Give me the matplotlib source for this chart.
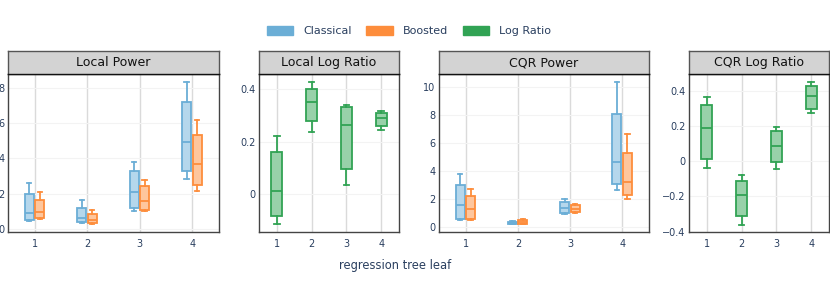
import matplotlib
matplotlib.use("Agg")
import matplotlib.pyplot as plt
from matplotlib.patches import Patch
import numpy as np

plt.rcParams['font.family'] = ['DejaVu Sans']

leaves = [1, 2, 3, 4]
leaf_labels = ["1", "2", "3", "4"]
series_names = ["Classical", "Boosted", "Log Ratio"]
panel_titles = ["Local Power", "Local Log Ratio", "CQR Power", "CQR Log Ratio"]

# Box stats per leaf: whisker low, Q1, median, Q3, whisker high
local_power_classical_lo = [0.47, 0.36, 1.04, 2.83]
local_power_classical_q1 = [0.51, 0.40, 1.17, 3.28]
local_power_classical_med = [0.92, 0.62, 2.09, 4.92]
local_power_classical_q3 = [1.96, 1.20, 3.30, 7.17]
local_power_classical_hi = [2.62, 1.64, 3.81, 8.32]

local_power_boosted_lo = [0.55, 0.26, 1.00, 2.15]
local_power_boosted_q1 = [0.60, 0.32, 1.06, 2.49]
local_power_boosted_med = [0.98, 0.51, 1.60, 3.70]
local_power_boosted_q3 = [1.66, 0.85, 2.42, 5.32]
local_power_boosted_hi = [2.09, 1.09, 2.77, 6.15]

local_ratio_lo = [-0.112, 0.235, 0.037, 0.245]
local_ratio_q1 = [-0.081, 0.278, 0.096, 0.260]
local_ratio_med = [0.014, 0.350, 0.262, 0.288]
local_ratio_q3 = [0.160, 0.400, 0.332, 0.309]
local_ratio_hi = [0.221, 0.425, 0.338, 0.315]

cqr_power_classical_lo = [0.45, 0.17, 0.93, 2.65]
cqr_power_classical_q1 = [0.55, 0.19, 1.00, 3.03]
cqr_power_classical_med = [1.53, 0.26, 1.31, 4.63]
cqr_power_classical_q3 = [2.98, 0.34, 1.79, 8.09]
cqr_power_classical_hi = [3.80, 0.38, 1.98, 10.33]

cqr_power_boosted_lo = [0.48, 0.19, 0.95, 2.00]
cqr_power_boosted_q1 = [0.55, 0.21, 1.03, 2.29]
cqr_power_boosted_med = [1.24, 0.36, 1.24, 3.22]
cqr_power_boosted_q3 = [2.20, 0.45, 1.53, 5.27]
cqr_power_boosted_hi = [2.70, 0.52, 1.62, 6.61]

cqr_ratio_lo = [-0.038, -0.360, -0.044, 0.274]
cqr_ratio_q1 = [0.013, -0.310, -0.002, 0.297]
cqr_ratio_med = [0.187, -0.194, 0.088, 0.370]
cqr_ratio_q3 = [0.322, -0.112, 0.170, 0.430]
cqr_ratio_hi = [0.364, -0.080, 0.194, 0.451]

colors = {"Classical": "#6baed6", "Boosted": "#fd8d3c", "Log Ratio": "#31a354"}
fills = {"Classical": "#b5d7ec", "Boosted": "#fec69d", "Log Ratio": "#98d1a9"}

def make_stats(lo, q1, med, q3, hi):
    return [dict(whislo=a, q1=b, med=c, q3=d, whishi=e, fliers=[])
            for a, b, c, d, e in zip(lo, q1, med, q3, hi)]

panels = [
    {"title": panel_titles[0], "series": [
        ("Classical", make_stats(local_power_classical_lo, local_power_classical_q1, local_power_classical_med, local_power_classical_q3, local_power_classical_hi)),
        ("Boosted", make_stats(local_power_boosted_lo, local_power_boosted_q1, local_power_boosted_med, local_power_boosted_q3, local_power_boosted_hi))],
     "ylim": (-0.17, 8.78), "yticks": [0, 2, 4, 6, 8], "ylabels": ["0", "2", "4", "6", "8"]},
    {"title": panel_titles[1], "series": [
        ("Log Ratio", make_stats(local_ratio_lo, local_ratio_q1, local_ratio_med, local_ratio_q3, local_ratio_hi))],
     "ylim": (-0.143, 0.456), "yticks": [0, 0.2, 0.4], "ylabels": ["0", "0.2", "0.4"]},
    {"title": panel_titles[2], "series": [
        ("Classical", make_stats(cqr_power_classical_lo, cqr_power_classical_q1, cqr_power_classical_med, cqr_power_classical_q3, cqr_power_classical_hi)),
        ("Boosted", make_stats(cqr_power_boosted_lo, cqr_power_boosted_q1, cqr_power_boosted_med, cqr_power_boosted_q3, cqr_power_boosted_hi))],
     "ylim": (-0.38, 10.93), "yticks": [0, 2, 4, 6, 8, 10], "ylabels": ["0", "2", "4", "6", "8", "10"]},
    {"title": panel_titles[3], "series": [
        ("Log Ratio", make_stats(cqr_ratio_lo, cqr_ratio_q1, cqr_ratio_med, cqr_ratio_q3, cqr_ratio_hi))],
     "ylim": (-0.402, 0.497), "yticks": [-0.4, -0.2, 0, 0.2, 0.4], "ylabels": ["\u22120.4", "\u22120.2", "0", "0.2", "0.4"]},
]

W, H = 830, 291
fig = plt.figure(figsize=(W / 100, H / 100), dpi=100)

panel_px = [(8, 219), (259, 399), (439, 649), (689, 829)]
plot_top, plot_bot, head_top = 74, 232, 51
tick_color = "#2a3f5f"

for (x0, x1), p in zip(panel_px, panels):
    ax = fig.add_axes([x0 / W, 1 - plot_bot / H, (x1 - x0) / W, (plot_bot - plot_top) / H])
    n = len(p["series"])
    if n == 2:
        offsets, width = [-0.105, 0.095], 0.17
    else:
        offsets, width = [0.0], 0.32
    for (name, stats), off in zip(p["series"], offsets):
        pos = [l + off for l in leaves]
        ax.bxp(stats, positions=pos, widths=width, showfliers=False, patch_artist=True,
               capwidths=width * 0.5,
               boxprops=dict(facecolor=fills[name], edgecolor=colors[name], linewidth=1.3),
               medianprops=dict(color=colors[name], linewidth=1.3),
               whiskerprops=dict(color=colors[name], linewidth=1.3),
               capprops=dict(color=colors[name], linewidth=1.3), zorder=3)
    ax.set_xlim(0.49, 4.51)
    ax.set_ylim(*p["ylim"])
    ax.set_xticks(leaves)
    ax.set_xticklabels(leaf_labels)
    ax.set_yticks(p["yticks"])
    ax.set_yticklabels(p["ylabels"])
    ax.tick_params(axis='both', length=0, labelsize=7, labelcolor=tick_color)
    ax.tick_params(axis='y', pad=2.5)
    ax.tick_params(axis='x', pad=5)
    ax.xaxis.grid(True, color="#dadada", linewidth=1.0, zorder=0)
    ax.yaxis.grid(True, color="#f3f3f3", linewidth=0.8, zorder=0)
    ax.set_axisbelow(True)
    for s in ax.spines.values():
        s.set_color("#444444")
        s.set_linewidth(1.0)
    # header strip
    hx = fig.add_axes([x0 / W, 1 - plot_top / H, (x1 - x0) / W, (plot_top - head_top) / H])
    hx.set_facecolor("#d3d3d3")
    hx.set_xticks([])
    hx.set_yticks([])
    for s in hx.spines.values():
        s.set_color("#555555")
        s.set_linewidth(1.0)
    hx.spines['bottom'].set_color("#111111")
    hx.text(0.5, 0.5, p["title"], ha="center", va="center", fontsize=9, color="#111111",
            transform=hx.transAxes)

fig.text(395 / W, 1 - 265 / H, "regression tree leaf", ha="center", va="center",
         fontsize=8.3, color=tick_color)

handles = [Patch(facecolor=colors[n], edgecolor=colors[n], label=n) for n in series_names]
leg = fig.legend(handles=handles, loc="center", bbox_to_anchor=(409 / W, 1 - 31 / H), ncol=3,
                 frameon=False, fontsize=8, handlelength=2.4, handleheight=0.9,
                 handletextpad=0.9, columnspacing=1.3)
for t in leg.get_texts():
    t.set_color(tick_color)

fig.savefig("out.png", dpi=100)
